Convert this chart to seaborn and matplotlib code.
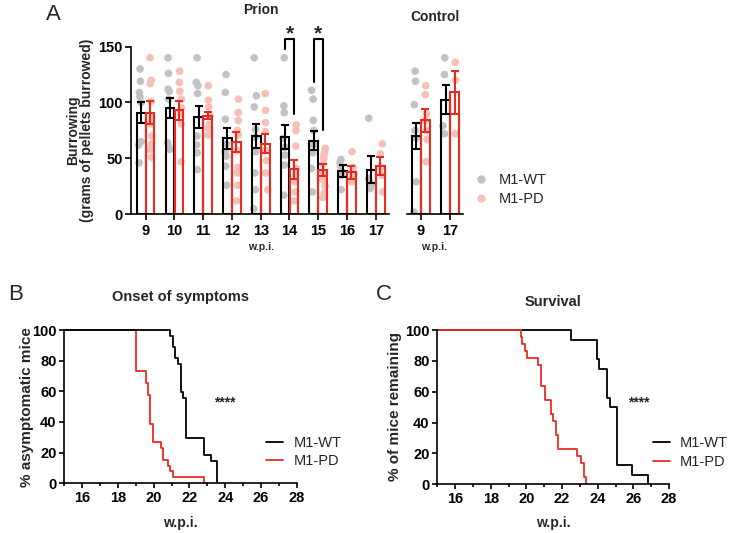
import numpy as np
import pandas as pd
import matplotlib
matplotlib.use("Agg")
import matplotlib.pyplot as plt
from matplotlib.lines import Line2D
from matplotlib.ticker import MultipleLocator
import seaborn as sns

# ---------------- data ----------------
genotypes = ["M1-WT", "M1-PD"]
prion_weeks = ["9", "10", "11", "12", "13", "14", "15", "16", "17"]
control_weeks = ["9", "17"]

prion_mean_wt = [91, 95, 87, 68, 70, 69, 66, 39, 40]
prion_sem_wt = [9, 9, 10, 9.5, 11, 10.5, 8.7, 5.5, 12]
prion_mean_pd = [91, 93, 88, 65, 63, 40.5, 39.5, 37.5, 43]
prion_sem_pd = [10, 8.5, 3.2, 9, 8.5, 8.5, 5.5, 6, 8]

control_mean_wt = [70, 102.5]
control_sem_wt = [11.6, 13]
control_mean_pd = [84, 109]
control_sem_pd = [10, 19]

prion_pts_wt = [
    [130, 119, 109, 105, 100, 65, 62, 46],
    [140, 126, 112, 110, 103, 64, 60, 58],
    [140, 118, 115, 108, 70, 62, 55, 40],
    [125, 109, 85, 63, 56, 52, 43, 26],
    [140, 106, 96, 76, 69, 56, 37, 22, 5],
    [140, 97, 91, 68, 60, 53, 44, 17],
    [111, 103, 84, 75, 62, 55, 41, 20],
    [49, 46, 43, 38, 35, 22],
    [86, 32, 27, 23],
]
prion_pts_pd = [
    [140, 120, 117, 101, 86, 81, 70, 63, 58, 51],
    [128, 118, 110, 103, 95, 90, 81, 47],
    [115, 102, 96, 88, 80, 77, 71],
    [103, 91, 84, 75, 71, 57, 42, 37, 26, 12],
    [108, 93, 82, 74, 57, 48, 37, 22],
    [80, 75, 61, 41, 35, 29, 20, 12],
    [59, 56, 53, 50, 45, 38, 31, 25, 19, 15],
    [56, 42, 36, 32, 29],
    [63, 54, 42, 35, 20],
]
control_pts_wt = [[128, 119, 98, 75, 68, 29, 2], [140, 125, 79, 72]]
control_pts_pd = [[115, 107, 90, 84, 75, 67, 47], [136, 120, 72]]

sig_weeks = ["14", "15"]
sig_top = [156.5, 156.5]
sig_left_bottom = [148, 118]
sig_right_bottom = [90, 75]
sig_label = "*"

onset_wt_t = [0, 20.92, 21.06, 21.19, 21.34, 21.53, 21.66, 21.81, 22.79, 23.23, 23.55]
onset_wt_s = [100, 96.3, 88.9, 81.5, 77.8, 59.3, 55.6, 29.6, 18.5, 14.8, 0]
onset_pd_t = [0, 19.0, 19.55, 19.68, 19.79, 19.96, 20.40, 20.53, 20.81, 20.92, 21.09, 22.81]
onset_pd_s = [100, 73.1, 65.4, 57.7, 38.5, 26.9, 23.1, 15.4, 11.5, 7.7, 3.8, 0]

surv_wt_t = [0, 22.5, 23.95, 24.1, 24.53, 24.67, 25.1, 25.95, 26.83]
surv_wt_s = [100, 93.75, 81.25, 75, 56.25, 50, 12.5, 6.25, 0]
surv_pd_t = [0, 19.67, 19.77, 19.9, 20.01, 20.67, 20.8, 21.03, 21.37, 21.5,
             21.65, 21.8, 22.82, 23.06, 23.21, 23.35]
surv_pd_s = [100, 95.45, 90.9, 86.4, 81.8, 77.3, 63.6, 54.5, 45.5, 40.9,
             31.8, 22.7, 18.2, 13.6, 4.5, 0]

# ---------------- style ----------------
sns.set_theme(style="ticks")
plt.rcParams["font.family"] = ["Liberation Sans", "DejaVu Sans"]
plt.rcParams["font.weight"] = "bold"
plt.rcParams["axes.linewidth"] = 1.2
plt.rcParams["xtick.major.width"] = 1.2
plt.rcParams["ytick.major.width"] = 1.2
plt.rcParams["xtick.minor.width"] = 1.2
plt.rcParams["xtick.color"] = "black"
plt.rcParams["ytick.color"] = "black"
plt.rcParams["axes.edgecolor"] = "black"

RED = "#ea2b22"
line_pal = {"M1-WT": "black", "M1-PD": RED}
dot_pal = {"M1-WT": "#c2c2c2", "M1-PD": "#f6c0b7"}

W, H = 730, 533
fig = plt.figure(figsize=(W / 100, H / 100), dpi=100)


def rect(l, t, r, b):
    return [l / W, 1 - b / H, (r - l) / W, (b - t) / H]


YTOP = 175
PX_PER = 1.118
Y0 = 214.3
axP = fig.add_axes(rect(131, Y0 - YTOP * PX_PER, 389, Y0))
axK = fig.add_axes(rect(406.7, Y0 - YTOP * PX_PER, 463.3, Y0))


def bar_panel(ax, weeks, mean_wt, mean_pd, sem_wt, sem_pd, pts_wt, pts_pd, xlim):
    bars = pd.DataFrame({
        "week": weeks * 2,
        "geno": ["M1-WT"] * len(weeks) + ["M1-PD"] * len(weeks),
        "mean": list(mean_wt) + list(mean_pd),
    })
    rows = []
    for g, pts in (("M1-WT", pts_wt), ("M1-PD", pts_pd)):
        for wk, vals in zip(weeks, pts):
            rows += [(wk, g, v) for v in vals]
    pts_df = pd.DataFrame(rows, columns=["week", "geno", "val"])

    np.random.seed(3)
    sns.stripplot(data=pts_df, x="week", y="val", hue="geno", order=weeks,
                  hue_order=genotypes, palette=dot_pal, dodge=True, jitter=True,
                  size=5.5, linewidth=0, legend=False, ax=ax, zorder=1)
    sns.barplot(data=bars, x="week", y="mean", hue="geno", order=weeks,
                hue_order=genotypes, palette=line_pal, fill=False, width=0.62,
                gap=0.03, errorbar=None, linewidth=1.5, saturation=1,
                legend=False, ax=ax, zorder=2)
    centers = {}
    sems = {"M1-WT": sem_wt, "M1-PD": sem_pd}
    for g, cont in zip(genotypes, ax.containers):
        for bar in cont:
            xc = bar.get_x() + bar.get_width() / 2
            i = int(round(xc))
            centers[(g, weeks[i])] = xc
            ax.errorbar(xc, bar.get_height(), yerr=sems[g][i], fmt="none",
                        ecolor=line_pal[g], elinewidth=1.5, capsize=3.2,
                        capthick=1.5, zorder=3)
    ax.set_xlim(*xlim)
    ax.set_ylim(0, YTOP)
    ax.set_xlabel("")
    ax.set_ylabel("")
    ax.tick_params(axis="x", length=4, labelsize=10.5, pad=3)
    for lab in ax.get_xticklabels():
        lab.set_fontweight("bold")
    sns.despine(ax=ax)
    return centers


cP = bar_panel(axP, prion_weeks, prion_mean_wt, prion_mean_pd, prion_sem_wt,
               prion_sem_pd, prion_pts_wt, prion_pts_pd, (-0.51, 8.46))
cK = bar_panel(axK, control_weeks, control_mean_wt, control_mean_pd,
               control_sem_wt, control_sem_pd, control_pts_wt, control_pts_pd,
               (-0.48, 1.45))

axP.set_yticks([0, 50, 100, 150])
axP.spines["left"].set_bounds(0, 150)
axP.tick_params(axis="y", length=4, labelsize=10.5, pad=2)
for lab in axP.get_yticklabels():
    lab.set_fontweight("bold")
axK.set_yticks([])
axK.spines["left"].set_visible(False)

for wk, top, lb, rb in zip(sig_weeks, sig_top, sig_left_bottom, sig_right_bottom):
    xl, xr = cP[("M1-WT", wk)], cP[("M1-PD", wk)]
    axP.plot([xl, xl, xr, xr], [lb, top, top, rb], color="black", lw=1.5,
             clip_on=False, zorder=4)
    axP.text((xl + xr) / 2, top + 5, sig_label, ha="center", va="center",
             fontsize=15, fontweight="bold")

fig.text(261 / W, 1 - 9.5 / H, "Prion", ha="center", va="center", fontsize=10)
fig.text(435 / W, 1 - 17 / H, "Control", ha="center", va="center", fontsize=10)
fig.text(261 / W, 1 - 247 / H, "w.p.i.", ha="center", va="center", fontsize=7.5)
fig.text(434 / W, 1 - 247 / H, "w.p.i.", ha="center", va="center", fontsize=7.5)
fig.text(80 / W, 1 - 130.5 / H, "Burrowing\n(grams of pellets burrowed)",
         rotation=90, ha="center", va="center", fontsize=10, linespacing=1.05)
fig.text(53 / W, 1 - 15 / H, "A", ha="center", va="center", fontsize=16,
         fontweight="normal")

legA = [Line2D([], [], ls="none", marker="o", ms=6, mec="none", mfc=dot_pal[g])
        for g in genotypes]
fig.legend(legA, genotypes, loc="center left", bbox_to_anchor=(474 / W, 1 - 189.5 / H),
           frameon=False, handlelength=1.0, handletextpad=0.7, labelspacing=0.3,
           borderpad=0, borderaxespad=0, prop={"size": 10.5, "weight": "normal"})

# ---------------- survival panels ----------------
axB = fig.add_axes(rect(64.3, 483.3 - 102 * 1.533, 296.7, 483.3))
axC = fig.add_axes(rect(437.3, 484.3 - 102 * 1.543, 669, 484.3))

sns.lineplot(x=onset_pd_t, y=onset_pd_s, drawstyle="steps-post", color=RED,
             lw=1.3, estimator=None, sort=False, ax=axB)
sns.lineplot(x=onset_wt_t, y=onset_wt_s, drawstyle="steps-post", color="black",
             lw=1.3, estimator=None, sort=False, ax=axB)
sns.lineplot(x=surv_wt_t, y=surv_wt_s, drawstyle="steps-post", color="black",
             lw=1.3, estimator=None, sort=False, ax=axC)
sns.lineplot(x=surv_pd_t, y=surv_pd_s, drawstyle="steps-post", color=RED,
             lw=1.3, estimator=None, sort=False, ax=axC)

for ax, ylab, star_x, lx, tx, ylx in (
        (axB, "% asymptomatic mice", 24.0, 0.87, 180.5, 27),
        (axC, "% of mice remaining", 26.3, 0.931, 553, 395.5)):
    ax.set_xlim(15, 28)
    ax.set_ylim(0, 102)
    ax.set_xticks([16, 18, 20, 22, 24, 26, 28])
    ax.xaxis.set_minor_locator(MultipleLocator(1))
    ax.set_yticks([0, 20, 40, 60, 80, 100])
    ax.spines["left"].set_bounds(0, 100)
    ax.tick_params(axis="both", which="major", length=3.6, labelsize=10.5, pad=2)
    ax.tick_params(axis="x", which="minor", length=2.2)
    for lab in ax.get_xticklabels() + ax.get_yticklabels():
        lab.set_fontweight("bold")
    ax.set_xlabel("")
    ax.set_ylabel("")
    sns.despine(ax=ax)
    ax.text(star_x, 53, "****", ha="center", va="center", fontsize=10,
            fontweight="bold")
    handles = [Line2D([], [], color="black", lw=1.3), Line2D([], [], color=RED, lw=1.3)]
    ax.legend(handles, genotypes, loc="center left", bbox_to_anchor=(lx, 0.2),
              frameon=False, handlelength=1.15, handletextpad=0.7,
              labelspacing=0.33, borderpad=0, borderaxespad=0,
              prop={"size": 10.5, "weight": "normal"})
    fig.text(tx / W, 1 - 523.5 / H, "w.p.i.", ha="center", va="center", fontsize=10)
    fig.text(ylx / W, 1 - 406.7 / H, ylab, rotation=90, ha="center", va="center",
             fontsize=11)

fig.text(180.5 / W, 1 - 297 / H, "Onset of symptoms", ha="center", va="center",
         fontsize=10.5)
fig.text(553 / W, 1 - 301.7 / H, "Survival", ha="center", va="center", fontsize=10.5)
fig.text(16 / W, 1 - 295 / H, "B", ha="center", va="center", fontsize=16,
         fontweight="normal")
fig.text(383.5 / W, 1 - 295 / H, "C", ha="center", va="center", fontsize=16,
         fontweight="normal")

fig.savefig("out.png", dpi=100)
